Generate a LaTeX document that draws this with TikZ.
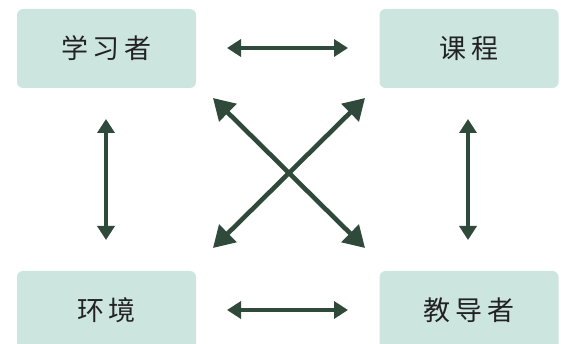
\documentclass[tikz,border=0pt]{standalone}
\usepackage{fontspec}
\newfontfamily\cjk{Noto Sans CJK SC}
\usetikzlibrary{arrows.meta}
\definecolor{boxfill}{HTML}{CCE6DF}
\definecolor{arrowc}{HTML}{2F4A3A}
\definecolor{txt}{HTML}{222222}
\newcommand{\gapc}{\hspace{5pt}}
\tikzset{
  card/.style={fill=boxfill, draw=none, rounded corners=6pt, minimum width=179pt, minimum height=79pt, inner sep=0pt, font=\cjk\fontsize{27}{27}\selectfont, text=txt},
  link/.style={draw=arrowc, line width=4.2pt, {Triangle[length=14pt,width=17pt]}-{Triangle[length=14pt,width=17pt]}},
  diag/.style={draw=arrowc, line width=4.6pt, {Triangle[length=21pt,width=24pt]}-{Triangle[length=21pt,width=24pt]}}
}
\begin{document}
\begin{tikzpicture}[x=1pt,y=-1pt]
\useasboundingbox (0,0) rectangle (565,344);
\begin{scope}
\clip (0,0) rectangle (565,344);
\node[card] (learner) at (106.5,48.5) {学\gapc 习\gapc 者};
\node[card] (course) at (469,48.5) {课\gapc 程};
\node[card] (env) at (106.5,310.5) {环\gapc 境};
\node[card] (teacher) at (469,310.5) {教\gapc 导\gapc 者};
\end{scope}
\coordinate (h1a) at (227,48);
\coordinate (h1b) at (348,48);
\coordinate (h2a) at (227,310);
\coordinate (h2b) at (348,310);
\coordinate (v1a) at (106,119);
\coordinate (v1b) at (106,240);
\coordinate (v2a) at (468,119);
\coordinate (v2b) at (468,240);
\coordinate (d1a) at (213,98);
\coordinate (d1b) at (365,248);
\coordinate (d2a) at (365,98);
\coordinate (d2b) at (213,248);
\draw[link] (h1a) -- (h1b);
\draw[link] (h2a) -- (h2b);
\draw[link] (v1a) -- (v1b);
\draw[link] (v2a) -- (v2b);
\draw[diag] (d1a) -- (d1b);
\draw[diag] (d2a) -- (d2b);
\end{tikzpicture}
\end{document}
